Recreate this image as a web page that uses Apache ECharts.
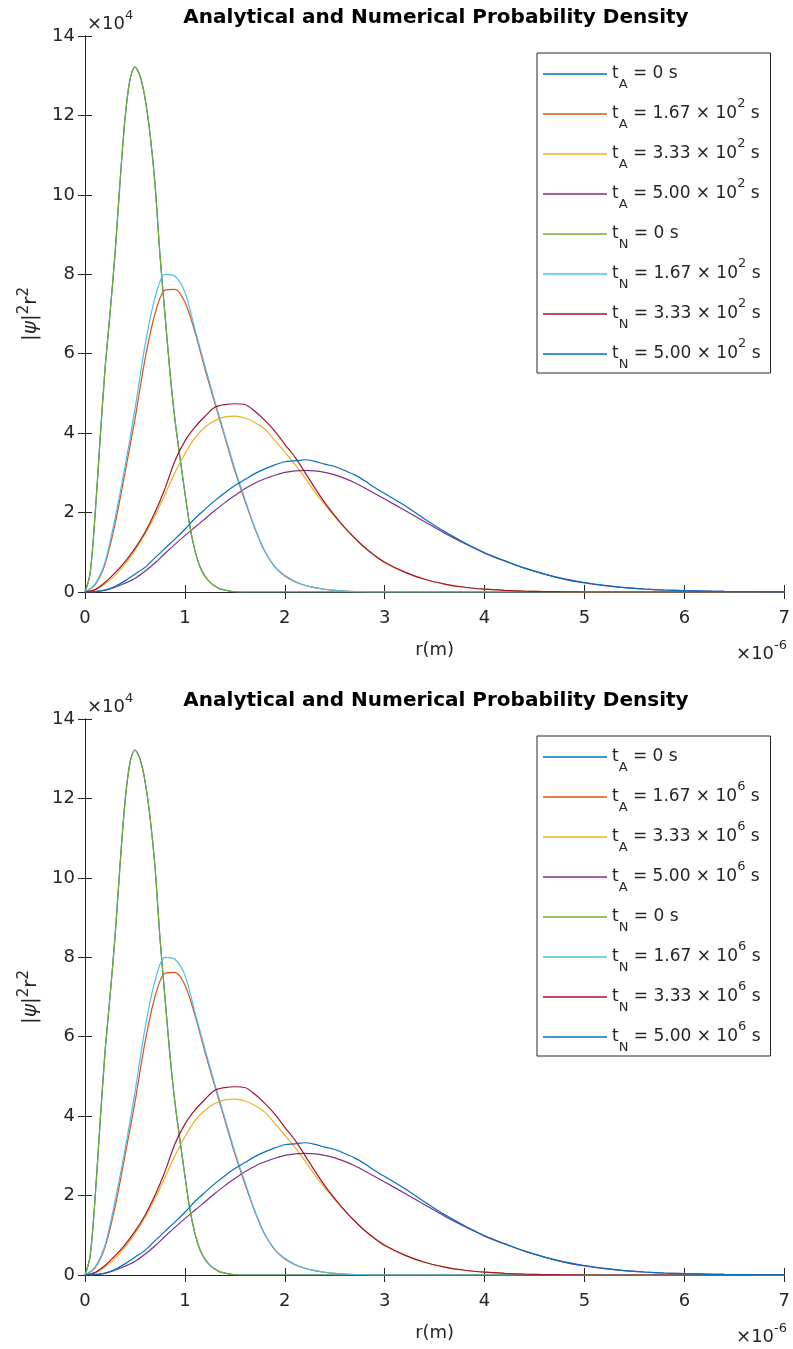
<!DOCTYPE html>
<html><head><meta charset="utf-8">
<script src="https://cdn.jsdelivr.net/npm/echarts@6/dist/echarts.min.js"></script>
<style>html,body{margin:0;padding:0;background:#fff}#c{width:793px;height:1349px}</style>
</head><body><div id="c"></div>
<script>
// r in units of 1e-6 m, density in units of 1e4
const rNarrow = [0,0.05,0.1,0.15,0.2,0.25,0.3,0.35,0.4,0.45,0.5,0.55,0.6,0.65,0.7,0.75,0.8,0.85,0.9,0.95,1.0,1.05,1.1,1.15,1.2,1.25,1.3,1.35,1.4,1.45,1.5,1.55,1.6,7.0];
const rWide = [0,0.1,0.2,0.3,0.4,0.5,0.6,0.7,0.8,0.9,1.0,1.1,1.2,1.3,1.4,1.5,1.6,1.7,1.8,1.9,2.0,2.1,2.2,2.3,2.4,2.5,2.6,2.7,2.8,2.9,3.0,3.2,3.4,3.6,3.8,4.0,4.2,4.4,4.6,4.8,5.0,5.2,5.4,5.6,5.8,6.0,6.2,6.4,6.6,6.8,7.0];

// numerical t = 0 (green)
const densN0 = [0,0.45,1.9,3.8,5.6,7.0,8.5,10.3,11.9,12.9,13.22,13.0,12.45,11.55,10.3,8.5,7.0,5.55,4.35,3.4,2.5,1.65,1.05,0.64,0.4,0.25,0.15,0.08,0.05,0.02,0.01,0,0,0];
// analytical t = 0 coincides with the numerical one (drawn beneath it)
const densA0 = [0,0.45,1.9,3.8,5.6,7.0,8.5,10.3,11.9,12.9,13.22,13.0,12.45,11.55,10.3,8.5,7.0,5.55,4.35,3.4,2.5,1.65,1.05,0.64,0.4,0.25,0.15,0.08,0.05,0.02,0.01,0,0,0];
const densA167 = [0,0.18,0.7,1.7,3.0,4.35,5.85,7.0,7.6,7.62,7.3,6.55,5.62,4.75,3.9,3.05,2.3,1.6,1.02,0.64,0.4,0.26,0.17,0.11,0.07,0.04,0.02,0.01,0.005,0,0,0,0,0,0,0,0,0,0,0,0,0,0,0,0,0,0,0,0,0,0];
const densN167 = [0,0.2,0.75,1.85,3.15,4.6,6.2,7.4,8.0,7.95,7.55,6.62,5.7,4.8,3.95,3.1,2.35,1.62,1.03,0.63,0.42,0.27,0.17,0.11,0.07,0.04,0.02,0.01,0.005,0,0,0,0,0,0,0,0,0,0,0,0,0,0,0,0,0,0,0,0,0,0];
const densA333 = [0,0.05,0.2,0.42,0.7,1.05,1.45,1.92,2.45,3.0,3.48,3.88,4.15,4.32,4.41,4.43,4.38,4.27,4.1,3.82,3.52,3.22,2.88,2.52,2.2,1.9,1.62,1.35,1.12,0.92,0.74,0.5,0.32,0.2,0.12,0.07,0.04,0.02,0.01,0.005,0,0,0,0,0,0,0,0,0,0,0];
const densN333 = [0,0.06,0.24,0.48,0.76,1.1,1.5,2.0,2.6,3.3,3.8,4.15,4.42,4.65,4.72,4.74,4.72,4.55,4.32,4.05,3.72,3.4,3.02,2.62,2.25,1.92,1.62,1.36,1.12,0.92,0.75,0.5,0.32,0.2,0.12,0.07,0.04,0.02,0.01,0.005,0,0,0,0,0,0,0,0,0,0,0];
const densA500 = [0,0.01,0.04,0.12,0.22,0.34,0.52,0.73,0.97,1.2,1.42,1.63,1.84,2.05,2.25,2.43,2.6,2.74,2.85,2.94,3.01,3.05,3.06,3.05,3.01,2.95,2.86,2.75,2.62,2.48,2.34,2.06,1.77,1.48,1.22,0.98,0.78,0.6,0.45,0.32,0.23,0.16,0.11,0.075,0.05,0.034,0.022,0.014,0.009,0.005,0.003];
const densN500 = [0,0.01,0.05,0.14,0.28,0.45,0.62,0.86,1.1,1.33,1.58,1.85,2.08,2.3,2.5,2.68,2.83,2.98,3.1,3.2,3.28,3.3,3.33,3.29,3.22,3.16,3.06,2.95,2.8,2.63,2.48,2.18,1.84,1.52,1.24,0.99,0.79,0.6,0.45,0.33,0.24,0.17,0.11,0.075,0.05,0.034,0.022,0.014,0.009,0.005,0.003];

const xTicks = [0,1,2,3,4,5,6,7];
const yTicks = [0,2,4,6,8,10,12,14];
const tags = ['A','A','A','A','N','N','N','N'];
const coefs = ['0','1.67','3.33','5.00','0','1.67','3.33','5.00'];
const plotExps = ['2','6'];
const titleText = 'Analytical and Numerical Probability Density';
const colors = ['#0072BD','#D95319','#EDB120','#7E2F8E','#77AC30','#4DBEEE','#A2142F','#0072BD'];
const seriesX = [rNarrow, rWide, rWide, rWide, rNarrow, rWide, rWide, rWide];
const seriesY = [densA0, densA167, densA333, densA500, densN0, densN167, densN333, densN500];

const FF = 'DejaVu Sans';
const INK = '#262626';
const OFF = 683; // vertical offset between the two panels
const chart = echarts.init(document.getElementById('c'), null, {renderer: 'canvas'});

const labelMap = {};
const grids = [], xAxes = [], yAxes = [], series = [], legends = [], titles = [], graphics = [];
for (let p = 0; p < 2; p++) {
  const top = 36 + p * OFF;
  grids.push({left: 85, top: top, width: 702, height: 556});
  const axLine = {show: true, lineStyle: {color: INK, width: 1}};
  const axTick = {show: true, inside: true, length: 7, lineStyle: {color: INK, width: 1}};
  xAxes.push({type: 'value', gridIndex: p, position: 'bottom', min: xTicks[0], max: xTicks[xTicks.length-1], interval: 1,
    axisLine: axLine, axisTick: axTick, splitLine: {show: false},
    axisLabel: {color: INK, fontSize: 18, fontFamily: FF, margin: 17},
    name: 'r(m)', nameLocation: 'middle', nameGap: 49,
    nameTextStyle: {color: INK, fontSize: 18, fontFamily: FF}});
  xAxes.push({type: 'value', gridIndex: p, position: 'top', min: xTicks[0], max: xTicks[xTicks.length-1], interval: 1,
    axisLine: axLine, axisTick: axTick, splitLine: {show: false}, axisLabel: {show: false}});
  yAxes.push({type: 'value', gridIndex: p, position: 'left', min: yTicks[0], max: yTicks[yTicks.length-1], interval: 2,
    axisLine: axLine, axisTick: axTick, splitLine: {show: false},
    axisLabel: {color: INK, fontSize: 18, fontFamily: FF, margin: 10},
    name: '{m||}{psi|ψ}{m||}{s|2}{m|r}{s|2}', nameLocation: 'middle', nameRotate: 90, nameGap: 37,
    nameTextStyle: {color: INK, fontSize: 20, fontFamily: FF,
      rich: {m: {fontSize: 20, fontFamily: FF, color: INK, lineHeight: 30},
             psi: {fontSize: 20, fontFamily: FF, color: INK, fontStyle: 'italic', lineHeight: 30},
             s: {fontSize: 15, fontFamily: FF, color: INK, lineHeight: 16, verticalAlign: 'top'}}}});
  yAxes.push({type: 'value', gridIndex: p, position: 'right', min: yTicks[0], max: yTicks[yTicks.length-1], interval: 2,
    axisLine: axLine, axisTick: axTick, splitLine: {show: false}, axisLabel: {show: false}});

  const names = [];
  for (let i = 0; i < 8; i++) {
    const nm = 'p' + p + 's' + i;
    names.push(nm);
    labelMap[nm] = coefs[i] === '0'
      ? '{m|t}{sub|' + tags[i] + '}{m| = 0 s}{sup| }'
      : '{m|t}{sub|' + tags[i] + '}{m| = ' + coefs[i] + ' × 10}{sup|' + plotExps[p] + '}{m| s}';
    series.push({type: 'line', name: nm, xAxisIndex: p * 2, yAxisIndex: p * 2,
      data: seriesX[i].map((x, k) => [x, seriesY[i][k]]),
      symbol: 'none', smooth: 0.3, clip: true,
      lineStyle: {color: colors[i], width: 1.2}, itemStyle: {color: colors[i]},
      emphasis: {disabled: true}, silent: true, animation: false});
  }
  legends.push({data: names.map(n => ({name: n, icon: 'rect'})), orient: 'vertical', left: 537, top: 53 + p * OFF,
    padding: [4, 10, 2, 6], itemGap: 6, itemWidth: 64, itemHeight: 1.3,
    borderColor: INK, borderWidth: 1, backgroundColor: '#fff',
    selectedMode: false,
    formatter: n => labelMap[n],
    textStyle: {color: INK, fontFamily: FF, fontSize: 17,
      rich: {m: {fontSize: 17, fontFamily: FF, color: INK, lineHeight: 34},
             sub: {fontSize: 13, fontFamily: FF, color: INK, lineHeight: 12, verticalAlign: 'bottom'},
             sup: {fontSize: 13, fontFamily: FF, color: INK, lineHeight: 24, verticalAlign: 'top'}}}});
  titles.push({text: titleText, left: 436, textAlign: 'center', top: 8 + p * OFF, padding: 0,
    textStyle: {color: '#000', fontSize: 20, fontWeight: 'bold', fontFamily: FF}});
  const richExp = {m: {fontSize: 18, fontFamily: FF, fill: INK, lineHeight: 30},
                   s: {fontSize: 13, fontFamily: FF, fill: INK, lineHeight: 12, verticalAlign: 'top'}};
  graphics.push({type: 'text', left: 87, top: 9.5 + p * OFF, silent: true,
    style: {text: '{m|×10}{s|4}', rich: richExp, fill: INK}});
  graphics.push({type: 'text', right: 6, top: 639 + p * OFF, silent: true,
    style: {text: '{m|×10}{s|-6}', rich: richExp, fill: INK}});
}

chart.setOption({
  animation: false,
  backgroundColor: '#fff',
  title: titles,
  grid: grids,
  xAxis: xAxes,
  yAxis: yAxes,
  legend: legends,
  series: series,
  graphic: graphics
});
</script></body></html>
